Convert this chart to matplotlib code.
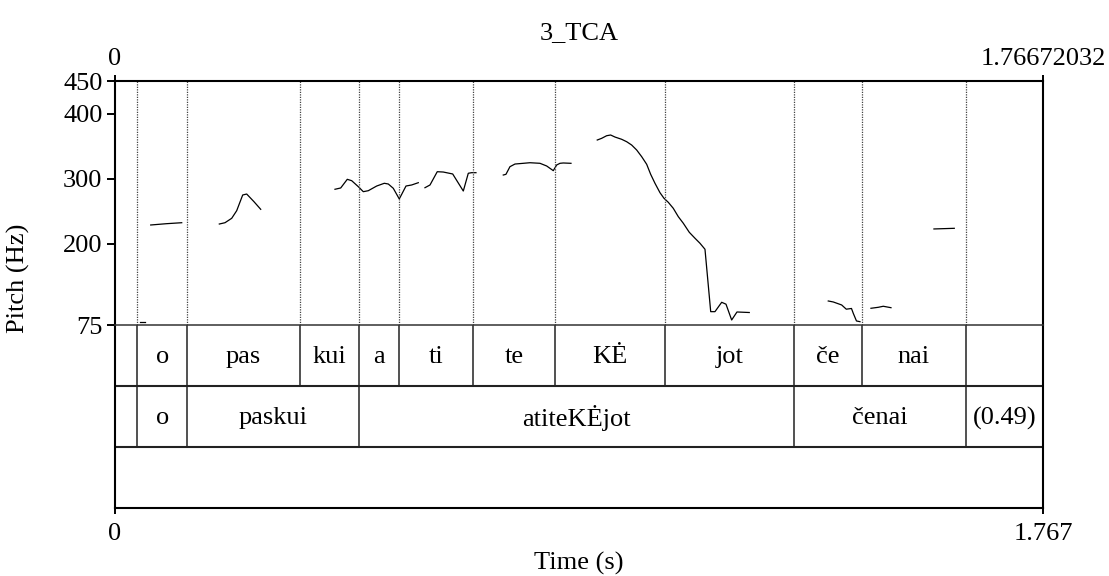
import matplotlib
matplotlib.use("Agg")
import matplotlib.pyplot as plt

plt.rcParams['font.family'] = ['Liberation Serif', 'DejaVu Serif']

title = "3_TCA"
t_end = 1.76672032

# syllable tier
syl_bounds = [0.0, 0.0424, 0.1376, 0.3516, 0.4639, 0.5401, 0.6810,
              0.8382, 1.0465, 1.2932, 1.4212, 1.6193, t_end]
syl_labels = ["", "o", "pas", "kui", "a", "ti", "te", "KĖ", "jot", "če", "nai", ""]

# word tier
word_bounds = [0.0, 0.0424, 0.1376, 0.4639, 1.2932, 1.6193, t_end]
word_labels = ["", "o", "paskui", "atiteKĖjot", "čenai", "(0.49)"]

# pitch contour, one pair of arrays per voiced stretch
f0_1_t = [0.048, 0.057]
f0_1_hz = [80.1, 80.1]
f0_2_t = [0.068, 0.098, 0.127]
f0_2_hz = [228.7, 230.7, 232.2]
f0_3_t = [0.1986, 0.2094, 0.2222, 0.2317, 0.2431, 0.2507, 0.2646, 0.2774]
f0_3_hz = [230.2, 232.2, 239.0, 250.7, 274.8, 276.3, 264.5, 252.8]
f0_4_t = [0.4188, 0.4297, 0.4422, 0.4506, 0.4632, 0.4727, 0.4822, 0.4982,
          0.5127, 0.5203, 0.5298, 0.5412, 0.5540, 0.5648, 0.5774]
f0_4_hz = [283.6, 285.6, 298.9, 296.8, 287.6, 279.9, 281.4, 288.6,
           292.8, 291.7, 285.1, 268.7, 288.6, 290.2, 293.7]
f0_5_t = [0.5901, 0.5997, 0.6135, 0.6250, 0.6429, 0.6631, 0.6726, 0.6790, 0.6872]
f0_5_hz = [286.0, 290.2, 310.6, 310.1, 307.1, 280.9, 308.2, 309.1, 309.1]
f0_6_t = [0.7392, 0.7443, 0.7519, 0.7615, 0.7773, 0.7900, 0.8091, 0.8218,
          0.8344, 0.8408, 0.8471, 0.8534, 0.8681]
f0_6_hz = [305.5, 306.6, 318.3, 322.4, 323.5, 324.4, 323.5, 319.4,
           312.2, 320.9, 323.5, 324.0, 323.5]
f0_7_t = [0.9181, 0.9265, 0.9360, 0.9436, 0.9518, 0.9646, 0.9741, 0.9836,
          0.9931, 1.0027, 1.0122, 1.0198, 1.0280, 1.0375, 1.0451, 1.0533,
          1.0628, 1.0724, 1.0819, 1.0933, 1.1042, 1.1137, 1.1232, 1.1341,
          1.1422, 1.1550, 1.1632, 1.1740, 1.1841, 1.2075]
f0_7_hz = [359.3, 361.9, 365.9, 367.0, 363.9, 360.4, 356.7, 351.6,
           344.0, 333.7, 322.0, 306.6, 292.8, 278.4, 269.8, 263.6,
           254.4, 241.5, 231.4, 217.5, 208.3, 200.6, 191.4, 95.5,
           95.5, 109.9, 107.0, 82.7, 95.0, 94.2]
f0_8_t = [1.3579, 1.3674, 1.3834, 1.3922, 1.4021, 1.4055, 1.4116, 1.4183]
f0_8_hz = [111.9, 110.4, 105.8, 99.3, 100.4, 93.0, 81.2, 80.1]
f0_9_t = [1.4392, 1.4531, 1.4626, 1.4773]
f0_9_hz = [100.7, 102.2, 103.8, 101.6]
f0_10_t = [1.5591, 1.5978]
f0_10_hz = [222.6, 223.6]

pitch_ticks = [75, 200, 300, 400, 450]
pitch_min, pitch_max = 75, 450

W, H = 1109, 576
fig = plt.figure(figsize=(W / 100, H / 100), dpi=100)

left_px, right_px = 115, 1043
top_px, pitch_bottom_px, bottom_px = 81, 325, 508

def rect(x0, y0, x1, y1):
    return [x0 / W, 1 - y1 / H, (x1 - x0) / W, (y1 - y0) / H]

FS = 19
ax_t = fig.add_axes(rect(left_px, pitch_bottom_px, right_px, bottom_px))
ax_p = fig.add_axes(rect(left_px, top_px, right_px, pitch_bottom_px))
ax_p.patch.set_alpha(0)

# pitch panel
ax_p.set_xlim(0, t_end)
ax_p.set_ylim(pitch_min, pitch_max)
segments = [(f0_1_t, f0_1_hz), (f0_2_t, f0_2_hz), (f0_3_t, f0_3_hz),
            (f0_4_t, f0_4_hz), (f0_5_t, f0_5_hz), (f0_6_t, f0_6_hz),
            (f0_7_t, f0_7_hz), (f0_8_t, f0_8_hz), (f0_9_t, f0_9_hz),
            (f0_10_t, f0_10_hz)]
for ts, hz in segments:
    ax_p.plot(ts, hz, color='black', lw=0.9, solid_joinstyle='round')
for b in syl_bounds[1:-1]:
    ax_p.axvline(b, color='#444444', lw=0.9, ls=(0, (1, 1)))

ax_p.set_yticks(pitch_ticks)
ax_p.set_yticklabels([str(v) for v in pitch_ticks], fontsize=FS)
ax_p.tick_params(axis='y', direction='out', length=6, width=1.4, pad=3)
ax_p.xaxis.tick_top()
ax_p.set_xticks([0, t_end])
ax_p.set_xticklabels(["0", "1.76672032"], fontsize=FS)
ax_p.tick_params(axis='x', direction='out', length=4, width=1.4, pad=4)
for s in ['left', 'top', 'right']:
    ax_p.spines[s].set_linewidth(1.5)
ax_p.spines['bottom'].set_linewidth(1.1)
ax_p.spines['bottom'].set_color('#333333')
ax_p.set_title(title, fontsize=FS, pad=30)

# tier panel
ax_t.set_xlim(0, t_end)
ax_t.set_ylim(3, 0)
ax_t.set_yticks([])
for s in ax_t.spines.values():
    s.set_linewidth(1.5)
ax_t.spines['top'].set_visible(False)
ax_t.set_xticks([0, t_end])
ax_t.set_xticklabels(["0", "1.767"], fontsize=FS)
ax_t.tick_params(axis='x', direction='out', length=4, width=1.4, pad=7)
ax_t.set_xlabel("Time (s)", fontsize=FS, labelpad=5)

for row in (1, 2):
    ax_t.axhline(row, color='#222222', lw=1.5)

def draw_tier(bounds, labels, row):
    for b in bounds[1:-1]:
        ax_t.plot([b, b], [row, row + 1], color='#222222', lw=1.1)
    for a, b, lab in zip(bounds[:-1], bounds[1:], labels):
        if lab:
            ax_t.text((a + b) / 2, row + 0.53, lab, ha='center', va='center',
                      fontsize=FS)

draw_tier(syl_bounds, syl_labels, 0)
draw_tier(word_bounds, word_labels, 1)

fig.text(18 / W, 1 - 278 / H, "Pitch (Hz)", rotation=90, ha='center',
         va='center', fontsize=FS)

fig.savefig("out.png", dpi=100)
